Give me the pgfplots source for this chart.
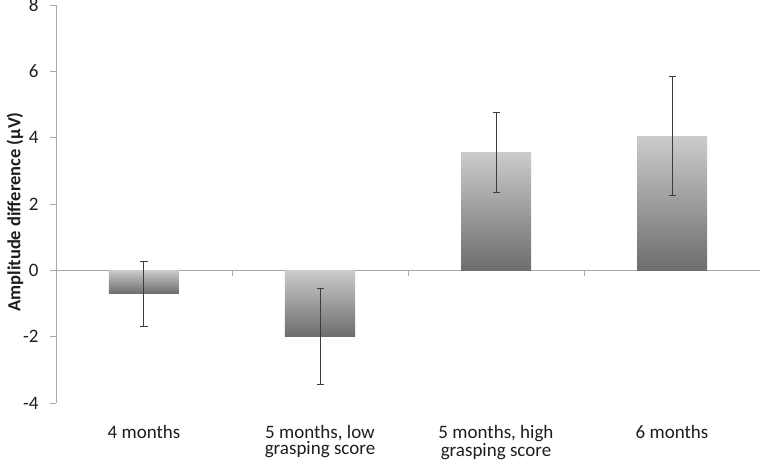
\documentclass[border=0pt]{standalone}
\usepackage{fontspec}
\setmainfont{Carlito}
\usepackage{pgfplots}
\pgfplotsset{compat=1.18}
\definecolor{axgray}{HTML}{A8A8A8}
\definecolor{barlight}{HTML}{CBCBCB}
\definecolor{bardark}{HTML}{6D6D6D}
\definecolor{errcol}{HTML}{3C3C3C}
\definecolor{txt}{HTML}{1E1E1E}
\begin{document}
\begin{tikzpicture}
\useasboundingbox (-56bp,-61bp) rectangle (704bp,403bp);
\begin{axis}[
  at={(0,0)}, anchor=south west,
  scale only axis, width=704bp, height=398bp,
  xmin=-0.5, xmax=3.5, ymin=-4, ymax=8,
  axis y line*=left, axis x line*=bottom,
  x axis line style={draw=none},
  y axis line style={draw=axgray, line width=0.8bp, -},
  ytick={-4,-2,0,2,4,6,8},
  yticklabels={-4,-2,0,2,4,6,8},
  ytick style={draw=axgray, line width=0.8bp},
  tick align=outside, major tick length=6bp,
  xtick={0,1,2,3},
  xticklabels={4 months,{5 months, low\\grasping score},{5 months, high\\grasping score},6 months},
  xtick style={draw=none},
  xticklabel style={align=center, text=txt, font=\fontsize{19bp}{16bp}\selectfont, anchor=north, yshift=-13bp},
  yticklabel style={text=txt, font=\fontsize{19bp}{22bp}\selectfont, xshift=-8bp},
  ylabel={Amplitude difference (µV)},
  every axis y label/.style={at={(axis description cs:-0.0582,0.48)}, anchor=center, rotate=90, text=txt, font=\fontsize{18.5bp}{22bp}\selectfont\bfseries},
  clip=false,
]
\addplot[axgray, line width=0.8bp, forget plot] coordinates {(-0.5,0) (3.5,0)};
\pgfplotsset{mybar/.style={ybar, bar width=70bp, draw=none, top color=barlight, bottom color=bardark,
  error bars/.cd, y dir=both, y explicit,
  error bar style={errcol, line width=1bp},
  error mark options={errcol, rotate=90, mark size=3.5bp, line width=1bp}}}
\addplot[mybar] coordinates {(0,-0.7) +- (0,0.98)};
\addplot[mybar] coordinates {(1,-2.0) +- (0,1.45)};
\addplot[mybar] coordinates {(2,3.55) +- (0,1.21)};
\addplot[mybar] coordinates {(3,4.04) +- (0,1.79)};
\pgfplotsinvokeforeach{0.5,1.5,2.5,3.5}{
  \draw[axgray, line width=0.8bp] (axis cs:#1,0) -- ([yshift=-6bp]axis cs:#1,0);
}
\end{axis}
\end{tikzpicture}
\end{document}
